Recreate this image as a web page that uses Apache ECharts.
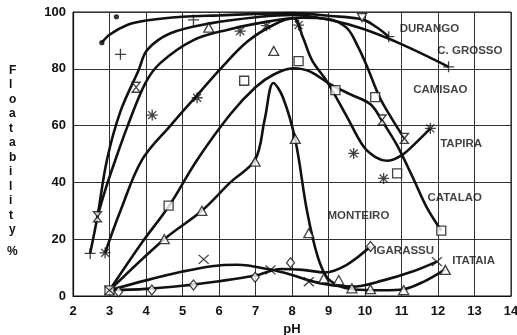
<!DOCTYPE html>
<html><head><meta charset="utf-8">
<script src="https://cdn.jsdelivr.net/npm/echarts@6/dist/echarts.min.js"></script>
<style>html,body{margin:0;padding:0;background:#fff}#c{width:517px;height:335px}</style>
</head><body><div id="c"></div>
<script>
// ---- data (pH, floatability %) ----
const xTickLabels = ['2','3','4','5','6','7','8','9','10','11','12','13','14'];
const yTickLabels = ['0','20','40','60','80','100'];

const durangoCurve = [[2.79,89.2],[3.0,92],[3.5,95.5],[4.0,97],[5.0,98.3],[6.0,98.8],[7.0,99.3],[8.0,99.6],[9.05,98.6],[9.92,97.4],[10.3,94.8],[10.65,91.3]];
const durangoPts = [[2.79,89.2],[3.19,98.3]];
const durangoPts2 = [[9.92,98]];

const cgrossoCurve = [[2.47,15],[2.67,28],[2.93,47.9],[3.3,65],[3.8,79.6],[4.03,86.6],[4.67,92.5],[5.76,96],[7.13,98.3],[8.0,99],[9.05,97.2],[9.96,94],[11.01,88.6],[12.29,80.7]];
const cgrossoPts = [[2.47,15],[3.30,85.1],[5.30,97.2],[10.65,91.3],[12.29,80.7]];

const camisaoCurve = [[2.67,28],[2.9,38],[3.16,47.9],[3.5,60],[3.98,74.9],[4.39,82],[5.3,90.1],[6.22,93.7],[7.32,96.6],[8.2,98],[9.0,97.5],[9.5,94.4],[9.8,88],[10.05,81],[10.4,70],[10.78,61.5],[11.08,55.5]];
const camisaoPts = [[2.67,27.9],[3.73,73.5],[10.47,62],[11.08,55.5]];

const tapiraCurve = [[2.88,15.2],[3.3,30],[3.89,47.9],[4.67,60],[5.49,72],[6.04,80],[6.77,89.5],[7.5,95.5],[8.04,97.8],[8.3,91],[8.55,83],[8.96,75.5],[9.51,63],[9.96,52.6],[10.3,48.8],[10.6,47.6],[11.0,49.5],[11.4,54],[11.79,59]];
const tapiraPts = [[2.88,15.2],[4.17,63.7],[5.40,69.8],[6.58,93.3],[7.30,95.2],[8.18,95.4],[9.69,50.2],[10.51,41.4],[11.79,59]];

const catalaoCurve = [[3.0,2],[3.9,19],[4.62,31.5],[5.4,47.9],[6.31,64],[7.0,73.5],[7.5,78],[8.04,80.2],[8.5,79],[9.05,74.5],[9.6,71],[10.15,67.5],[10.5,61],[10.88,53],[11.3,42],[11.7,31],[12.09,23]];
const catalaoPts = [[3.0,2],[4.62,31.8],[6.69,75.8],[8.18,82.7],[9.19,72.5],[10.28,70],[10.88,43.2],[12.09,23]];

const monteiroCurve = [[3.0,2],[4.5,20],[5.53,30],[6.31,40],[6.99,48],[7.25,62],[7.49,75],[7.75,70],[8.09,55],[8.41,30],[8.7,14],[8.96,6.5],[9.3,3.5],[9.64,2.4],[10.5,2],[11.06,2.4],[11.6,5],[12.2,9.4]];
const monteiroPts = [[4.5,20],[5.53,30],[5.72,94.5],[6.99,47.3],[7.5,86.3],[8.09,55.3],[8.46,22.1],[8.87,6.2],[9.28,5.6],[9.64,2.7],[10.15,2.4],[11.06,2.1],[12.2,9.2]];

const igarassuCurve = [[3.0,2],[4.0,2.5],[5.0,3.6],[6.0,5.2],[7.0,7.2],[7.69,9.5],[8.3,9.2],[8.9,8.3],[9.5,11],[10.15,17.4]];
const igarassuPts = [[3.25,1.5],[4.16,2.1],[5.30,3.9],[6.99,6.6],[7.96,11.7],[10.15,17.4]];

const itataiaCurve = [[3.0,2],[4.0,5.5],[5.0,8.6],[5.8,10.5],[6.5,11],[7.41,9.3],[8.0,7.4],[8.46,5.5],[9.0,4],[9.64,3.3],[10.5,5.5],[11.3,8.6],[11.97,12.1]];
const itataiaPts = [[3.0,2],[5.58,12.9],[7.41,9.2],[8.46,5],[11.97,12.1]];

const curveNames = ['DURANGO','C. GROSSO','CAMISAO','TAPIRA','CATALAO','MONTEIRO','IGARASSU','ITATAIA'];
const labelAnchors = [[10.95,94.0],[11.98,86.3],[11.32,72.5],[12.06,53.5],[11.71,34.5],[8.97,28.2],[10.23,15.8],[12.39,12.3]];
const yAxisTitle = 'Floatability';
const xAxisTitle = 'pH';

// ---- chart ----
const INK = '#111';
const FONT = 'Liberation Sans';
const sym = {
  hourglass: 'path://M0,0L10,0L0,12L10,12Z',
  star: 'path://M5,0L5,10M0,5L10,5M1.4,1.4L8.6,8.6M8.6,1.4L1.4,8.6',
  cross: 'path://M0,0L10,10M10,0L0,10',
  plus: 'path://M5,0L5,10M0,5L10,5',
  tri: 'path://M5,0L10,9L0,9Z',
  tridown: 'path://M0,0L10,0L5,9Z',
  diamond: 'path://M5,0L10,5L5,10L0,5Z'
};
function curve(d){return {type:'line',data:d,smooth:0.35,symbol:'none',lineStyle:{color:INK,width:2.6},z:3,silent:true};}
function pts(d,symbol,size,hollow){return {type:'scatter',data:d,symbol:symbol,symbolSize:size,z:4,silent:true,
  itemStyle:hollow?{color:'#fff',borderColor:INK,borderWidth:1.3}:{color:INK,borderColor:INK,borderWidth:1.3}};}

const series = [
  curve(durangoCurve), curve(cgrossoCurve), curve(camisaoCurve), curve(tapiraCurve),
  curve(catalaoCurve), curve(monteiroCurve), curve(igarassuCurve), curve(itataiaCurve),
  pts(durangoPts,'circle',4,false), pts(durangoPts2,sym.tridown,[9,8],true),
  pts(cgrossoPts,sym.plus,[11,11],false),
  pts(camisaoPts,sym.hourglass,[8,10],true),
  pts(tapiraPts,sym.star,[11,11],false),
  pts(catalaoPts,'rect',[9,9],true),
  pts(monteiroPts,sym.tri,[10,9],true),
  pts(igarassuPts,sym.diamond,[8,10],true),
  pts(itataiaPts,sym.cross,[10,9],false),
  {type:'scatter',symbolSize:0,silent:true,z:5,
   data:labelAnchors.map((p,i)=>({value:p,name:curveNames[i]})),
   label:{show:true,position:'right',distance:0,formatter:'{b}',color:INK,fontFamily:FONT,fontWeight:'bold',fontSize:11.5}}
];

const chart = echarts.init(document.getElementById('c'),null,{renderer:'canvas'});
chart.setOption({
  animation:false,
  backgroundColor:'#fff',
  grid:{left:73,right:6,top:12,bottom:39,show:true,borderColor:INK,borderWidth:1,containLabel:false,outerBoundsMode:'none'},
  xAxis:{type:'value',min:2,max:14,interval:1,
    axisLine:{lineStyle:{color:INK,width:1.2}},axisTick:{show:false},
    splitLine:{show:true,lineStyle:{color:'#333',width:1}},
    axisLabel:{margin:9,color:INK,fontFamily:FONT,fontWeight:'bold',fontSize:13,
      formatter:v=>xTickLabels[Math.round(v)-2]},
    name:xAxisTitle,nameLocation:'middle',nameGap:26,
    nameTextStyle:{color:INK,fontFamily:FONT,fontWeight:'bold',fontSize:13}},
  yAxis:{type:'value',min:0,max:100,interval:20,
    axisLine:{show:true,lineStyle:{color:INK,width:1.2}},axisTick:{show:false},
    splitLine:{show:true,lineStyle:{color:'#333',width:1}},
    axisLabel:{margin:7,color:INK,fontFamily:FONT,fontWeight:'bold',fontSize:13,
      formatter:v=>yTickLabels[Math.round(v/20)]}},
  graphic:[
    {type:'text',left:9,top:63,style:{text:yAxisTitle.split('').join('\n'),fill:INK,
      font:'bold 12px "Liberation Sans"',lineHeight:14.5,align:'center',width:12}},
    {type:'text',left:7,top:246,style:{text:'%',fill:INK,font:'bold 12px "Liberation Sans"'}}
  ],
  series:series
});
</script></body></html>
